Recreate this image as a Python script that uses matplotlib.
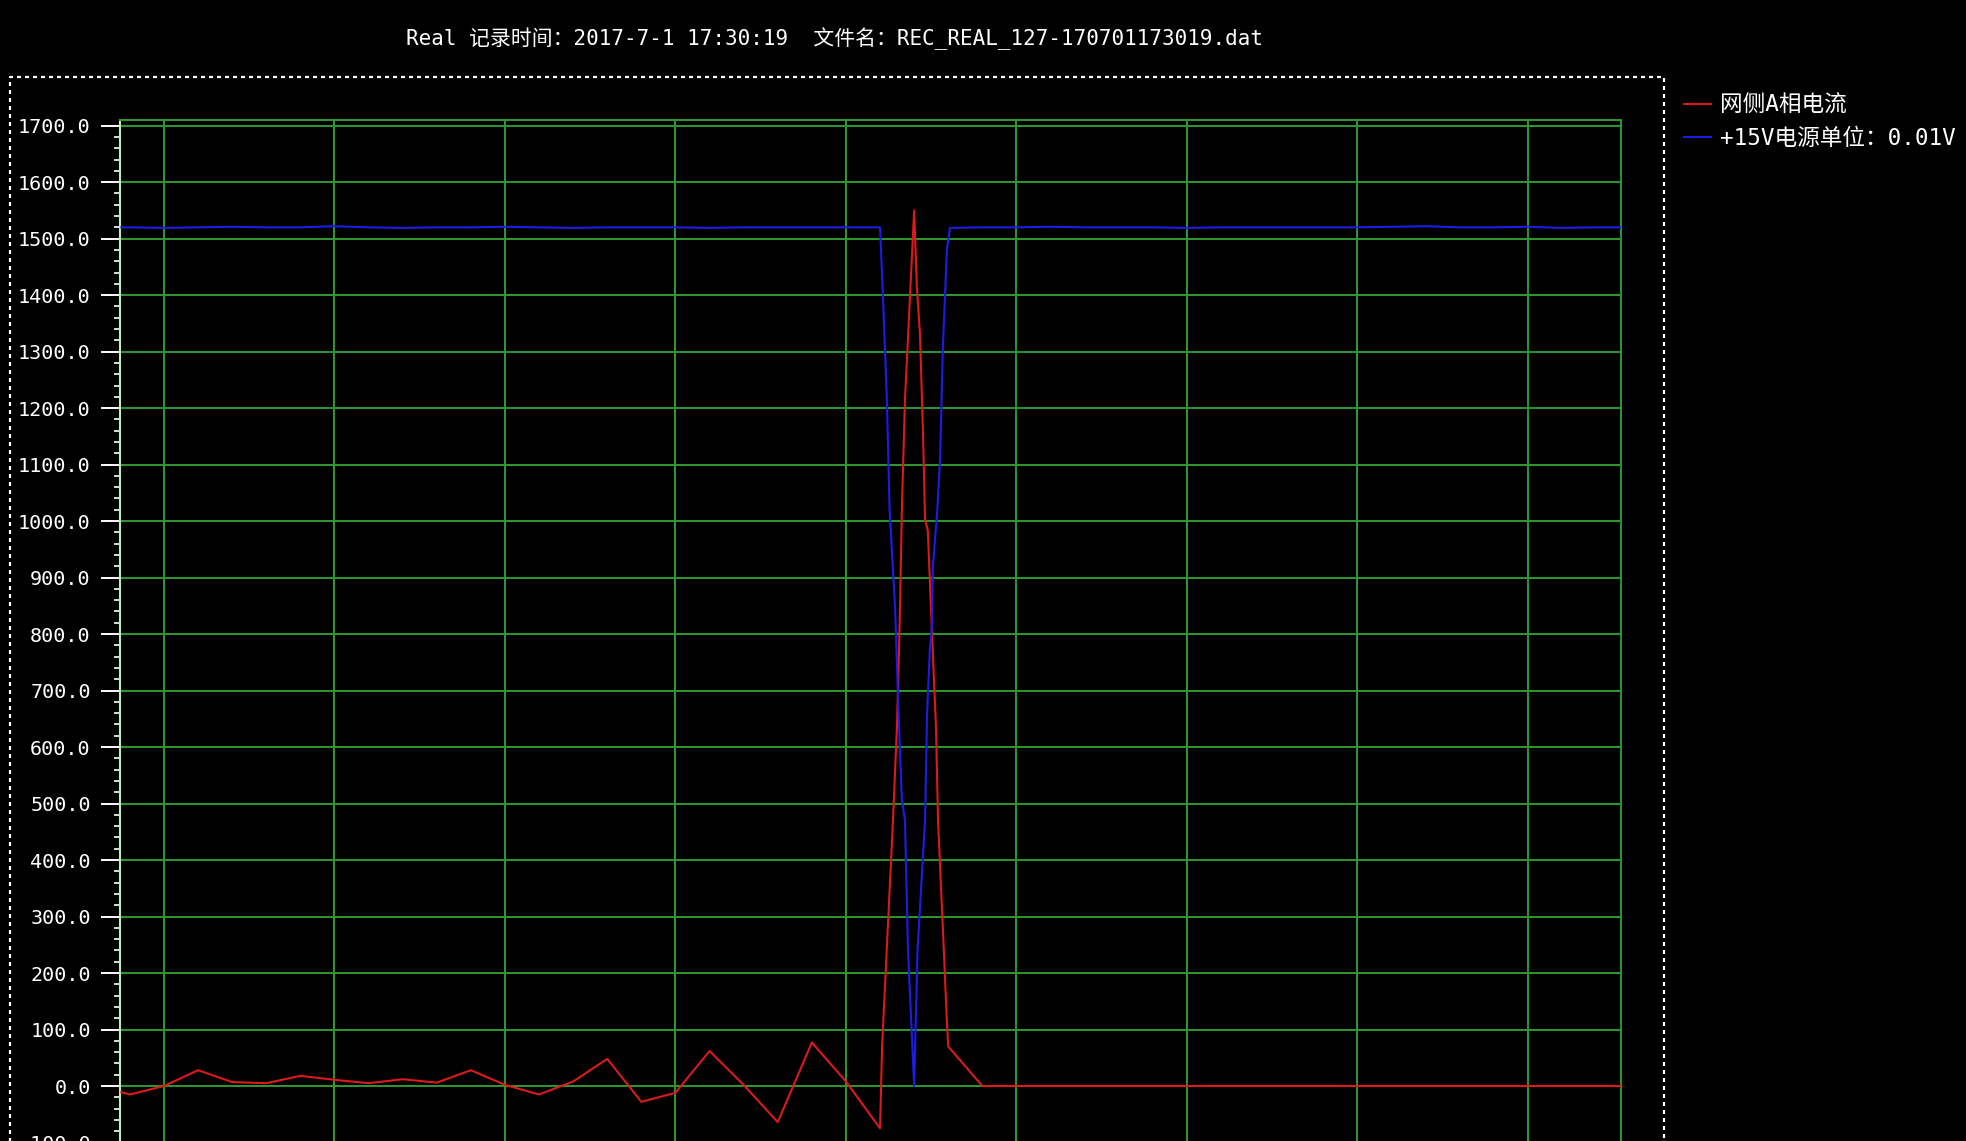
import numpy as np
import matplotlib
matplotlib.use('Agg')
import matplotlib.pyplot as plt
from matplotlib.lines import Line2D
from matplotlib.ticker import MultipleLocator, FormatStrFormatter

plt.rcParams['font.family'] = ['DejaVu Sans Mono', 'Noto Sans CJK SC']
plt.rcParams['axes.unicode_minus'] = False

title = 'Real 记录时间：2017-7-1 17:30:19  文件名：REC_REAL_127-170701173019.dat'
red_label = '网侧A相电流'
blue_label = '+15V电源单位：0.01V'

# slow samples before the event (grid line every 5 samples)
t_pre = np.concatenate([[-1.25], np.arange(-1, 22)])
red_pre = [-11, -15, 0, 28, 7, 5, 18, 11, 5, 12, 6, 28, 2, -15, 8, 48,
           -28, -12, 62, 2, -64, 77, 8, -75]
blue_pre = [1520, 1520, 1519, 1520, 1521, 1520, 1520, 1522, 1520, 1519, 1520, 1520,
            1521, 1520, 1519, 1520, 1520, 1520, 1519, 1520, 1520, 1520, 1520, 1520]

# fast samples during the spike
t_spike_red = [21.06, 21.38, 21.50, 21.58, 21.64, 21.73, 21.88, 22.0, 22.08, 22.17,
               22.26, 22.32, 22.40, 22.52, 22.64, 22.70, 22.87, 22.96, 23.0]
red_spike = [70, 471, 643, 830, 1020, 1214, 1400, 1550, 1413, 1333,
             1156, 1002, 984, 807, 636, 471, 241, 113, 70]
t_spike_blue = [21.09, 21.2, 21.28, 21.44, 21.53, 21.64, 21.73, 21.82, 22.0, 22.1,
                22.32, 22.38, 22.46, 22.52, 22.55, 22.68, 22.76, 22.84, 22.96, 23.05]
blue_spike = [1391, 1214, 1020, 848, 683, 506, 471, 241, 0, 241,
              471, 660, 772, 812, 919, 1020, 1108, 1303, 1480, 1519]

# after the event
t_post_red = [24, 30, 36, 42.73]
red_post = [0, 0, 0, 0]
t_post_blue = np.concatenate([np.arange(24, 43), [42.73]])
blue_post = [1520, 1520, 1521, 1520, 1520, 1520, 1519, 1520, 1520, 1520,
             1520, 1520, 1521, 1522, 1520, 1520, 1521, 1519, 1520, 1520]

t_red = np.concatenate([t_pre, t_spike_red, t_post_red])
y_red = np.concatenate([red_pre, red_spike, red_post])
t_blue = np.concatenate([t_pre, t_spike_blue, t_post_blue])
y_blue = np.concatenate([blue_pre, blue_spike, blue_post])

W, H = 1966, 1141
fig = plt.figure(figsize=(W / 100, H / 100), dpi=100, facecolor='black')
# axes runs past the bottom edge, as in the screenshot
ax = fig.add_axes([120 / W, 1 - 1199 / H, 1501 / W, 1079 / H], facecolor='black')

grid_green = '#2f9a2f'
l1, = ax.plot(t_red, y_red, color='#dd1a1a', lw=1.5, zorder=3)
l2, = ax.plot(t_blue, y_blue, color='#1c1ce8', lw=1.5, zorder=3)

ax.set_xlim(-1.29, 42.73)
ax.set_ylim(-200, 1710)
ax.xaxis.set_major_locator(MultipleLocator(5))
ax.yaxis.set_major_locator(MultipleLocator(100))
ax.yaxis.set_minor_locator(MultipleLocator(20))
ax.yaxis.set_major_formatter(FormatStrFormatter('%.1f'))
ax.grid(True, which='major', color=grid_green, lw=1.4, zorder=1)

ax.tick_params(axis='y', which='major', length=14, width=1.4, color='white',
               labelcolor='white', labelsize=14.5, pad=7)
ax.tick_params(axis='y', which='minor', length=4.3, width=1.2, color='white')
ax.tick_params(axis='x', length=0, labelbottom=False)

ax.spines['left'].set_color('#b8f0b8')
ax.spines['left'].set_linewidth(1.5)
for s in ['top', 'right', 'bottom']:
    ax.spines[s].set_color(grid_green)
    ax.spines[s].set_linewidth(1.4)

fig.text(834 / W, 1 - 39 / H, title, color='white', fontsize=15,
         ha='center', va='center')

# dotted frame around the plot
box = Line2D([10 / W, 10 / W, 1664 / W, 1664 / W], [-0.01, 1 - 77 / H, 1 - 77 / H, -0.01],
             transform=fig.transFigure, color='white', lw=1.6,
             linestyle=(0, (1.8, 1.8)))
fig.add_artist(box)

ax.legend([l1, l2], [red_label, blue_label], loc='upper left',
          bbox_to_anchor=(1684 / W, 1 - 94 / H), bbox_transform=fig.transFigure,
          frameon=False, fontsize=16.3, handlelength=1.2, handletextpad=0.4,
          borderpad=0, borderaxespad=0, labelspacing=0.45, labelcolor='white')

fig.savefig('out.png', dpi=100, facecolor='black')
